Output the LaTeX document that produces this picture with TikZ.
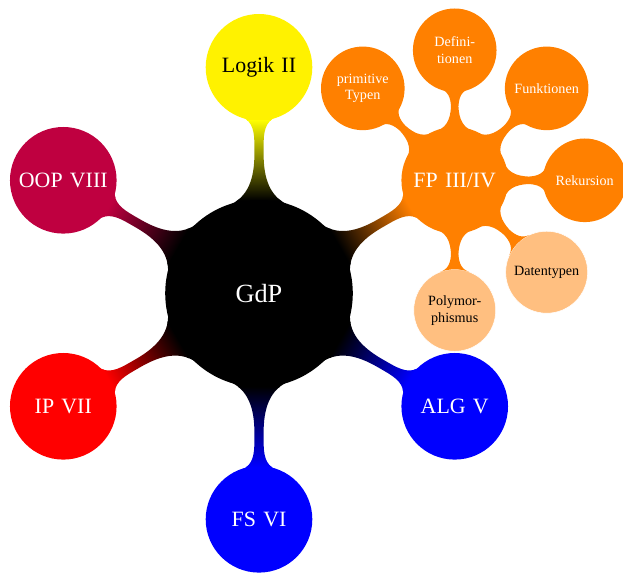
\documentclass[tikz,border=0pt]{standalone}
\usepackage{fontspec}
\setmainfont[WordSpace=0.6]{Liberation Serif}
\usetikzlibrary{mindmap}
\tikzset{
  rootc/.style={concept, minimum size=139.5pt, text width=100pt, inner sep=0pt, font=\fontsize{19.7}{23}\selectfont},
  lonec/.style={concept, minimum size=78.75pt, text width=72pt, inner sep=0pt, font=\fontsize{16.4}{19}\selectfont},
  ltwoc/.style={concept, minimum size=61.5pt, text width=50pt, inner sep=0pt, font=\fontsize{10.6}{12.6}\selectfont},
  lightc/.style={fill=orange!50, draw=white, line width=0.4pt, text=black},
}
\begin{document}
\begin{tikzpicture}[x=0.75pt,y=0.75pt,
  mindmap, concept color=black, text=white,
  level 1/.append style={level distance=169.5pt, sibling angle=60},
  level 2/.append style={level distance=97.5pt, sibling angle=45}]
\useasboundingbox (0,0) rectangle (623,574);
\node[rootc] (gdp) at (259,280.7) {GdP}
  child[grow=90, concept color=yellow] { node[lonec, text=black] (logik) {Logik II} }
  child[grow=30, concept color=orange] { node[lonec] (fp) {FP III/IV}
     child[grow=135] { node[ltwoc] (pt) {primitive\\Typen} }
     child[grow=90] { node[ltwoc] (def) {Defini-\\tionen} }
     child[grow=45] { node[ltwoc] (fkt) {Funktionen} }
     child[grow=0] { node[ltwoc] (rek) {Rekursion} }
     child[grow=-45] { node[ltwoc, lightc] (dt) {Datentypen} }
     child[grow=-90] { node[ltwoc, lightc] (poly) {Polymor-\\phismus} }
  }
  child[grow=-30, concept color=blue] { node[lonec] (alg) {ALG V} }
  child[grow=-90, concept color=blue] { node[lonec] (fs) {FS VI} }
  child[grow=-150, concept color=red] { node[lonec] (ip) {IP VII} }
  child[grow=150, concept color=purple] { node[lonec] (oop) {OOP~VIII} };
\end{tikzpicture}
\end{document}
